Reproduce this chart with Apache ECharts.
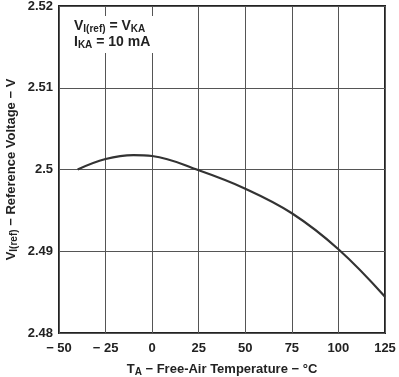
<!DOCTYPE html>
<html>
<head>
<meta charset="utf-8">
<script src="https://cdn.jsdelivr.net/npm/echarts@6/dist/echarts.min.js"></script>
<style>
  html, body { margin: 0; padding: 0; background: #fff; }
  #chart { width: 399px; height: 377px; }
</style>
</head>
<body>
<div id="chart"></div>
<script>
// temperature (°C) and reference voltage (V)
const temps = [-40, -25, -10, 0, 25, 50, 75, 100, 125];
const volts = [2.5000, 2.50128, 2.50176, 2.50165, 2.4999, 2.49765, 2.49465, 2.49025, 2.48444];
const xTicks = [-50, -25, 0, 25, 50, 75, 100, 125];
const yTicks = [2.48, 2.49, 2.50, 2.51, 2.52];

const font = 'Liberation Sans, Arial, sans-serif';
const chart = echarts.init(document.getElementById('chart'));

chart.setOption({
  animation: false,
  grid: {
    left: 59, right: 14, top: 6, bottom: 44,
    outerBoundsMode: 'none',
    show: true, borderColor: '#222', borderWidth: 2
  },
  xAxis: {
    type: 'value',
    min: -50, max: 125, interval: 25,
    axisLine: { show: false },
    axisTick: { show: false },
    splitLine: { lineStyle: { color: '#555', width: 1 } },
    axisLabel: {
      margin: 9,
      color: '#222', fontFamily: font, fontWeight: 'bold', fontSize: 13,
      formatter: v => (v < 0 ? '\u2212 ' + Math.abs(v) : String(v))
    },
    name: '{b|T}{s|A}{b| \u2212 Free-Air Temperature \u2212 \u00b0C}',
    nameLocation: 'middle',
    nameMoveOverlap: false,
    nameGap: 28,
    nameTextStyle: {
      rich: {
        b: { fontFamily: font, fontWeight: 'bold', fontSize: 13, color: '#222' },
        s: { fontFamily: font, fontWeight: 'bold', fontSize: 10, color: '#222', verticalAlign: 'bottom', padding: [6, 0, 0, 0] }
      }
    }
  },
  yAxis: {
    type: 'value',
    min: 2.48, max: 2.52, interval: 0.01,
    axisLine: { show: false },
    axisTick: { show: false },
    splitLine: { lineStyle: { color: '#555', width: 1 } },
    axisLabel: {
      margin: 6,
      color: '#222', fontFamily: font, fontWeight: 'bold', fontSize: 13,
      formatter: v => (Math.abs(v - 2.5) < 1e-6 ? '2.5' : v.toFixed(2))
    },
    name: '{b|V}{s|I(ref)}{b| \u2212 Reference Voltage \u2212 V}',
    nameLocation: 'middle',
    nameRotate: 90,
    nameMoveOverlap: false,
    nameGap: 40,
    nameTextStyle: {
      rich: {
        b: { fontFamily: font, fontWeight: 'bold', fontSize: 13, color: '#222' },
        s: { fontFamily: font, fontWeight: 'bold', fontSize: 10, color: '#222', verticalAlign: 'bottom', padding: [6, 0, 0, 0] }
      }
    }
  },
  graphic: [
    {
      type: 'rect', left: 70, top: 16, z: 10,
      shape: { width: 100, height: 37 },
      style: { fill: '#fff' }
    },
    {
      type: 'text', left: 74, top: 19, z: 11,
      style: {
        text: '{b|V}{s|I(ref)}{b| = V}{s|KA}\n{b|I}{s|KA}{b| = 10 mA}',
        rich: {
          b: { fontFamily: font, fontWeight: 'bold', fontSize: 14, fill: '#222', lineHeight: 16 },
          s: { fontFamily: font, fontWeight: 'bold', fontSize: 10, fill: '#222', lineHeight: 16, verticalAlign: 'bottom' }
        }
      }
    }
  ],
  series: [{
    type: 'line',
    data: temps.map((t, i) => [t, volts[i]]),
    smooth: 0.4,
    showSymbol: false,
    lineStyle: { color: '#333', width: 2.2 }
  }]
});
</script>
</body>
</html>
